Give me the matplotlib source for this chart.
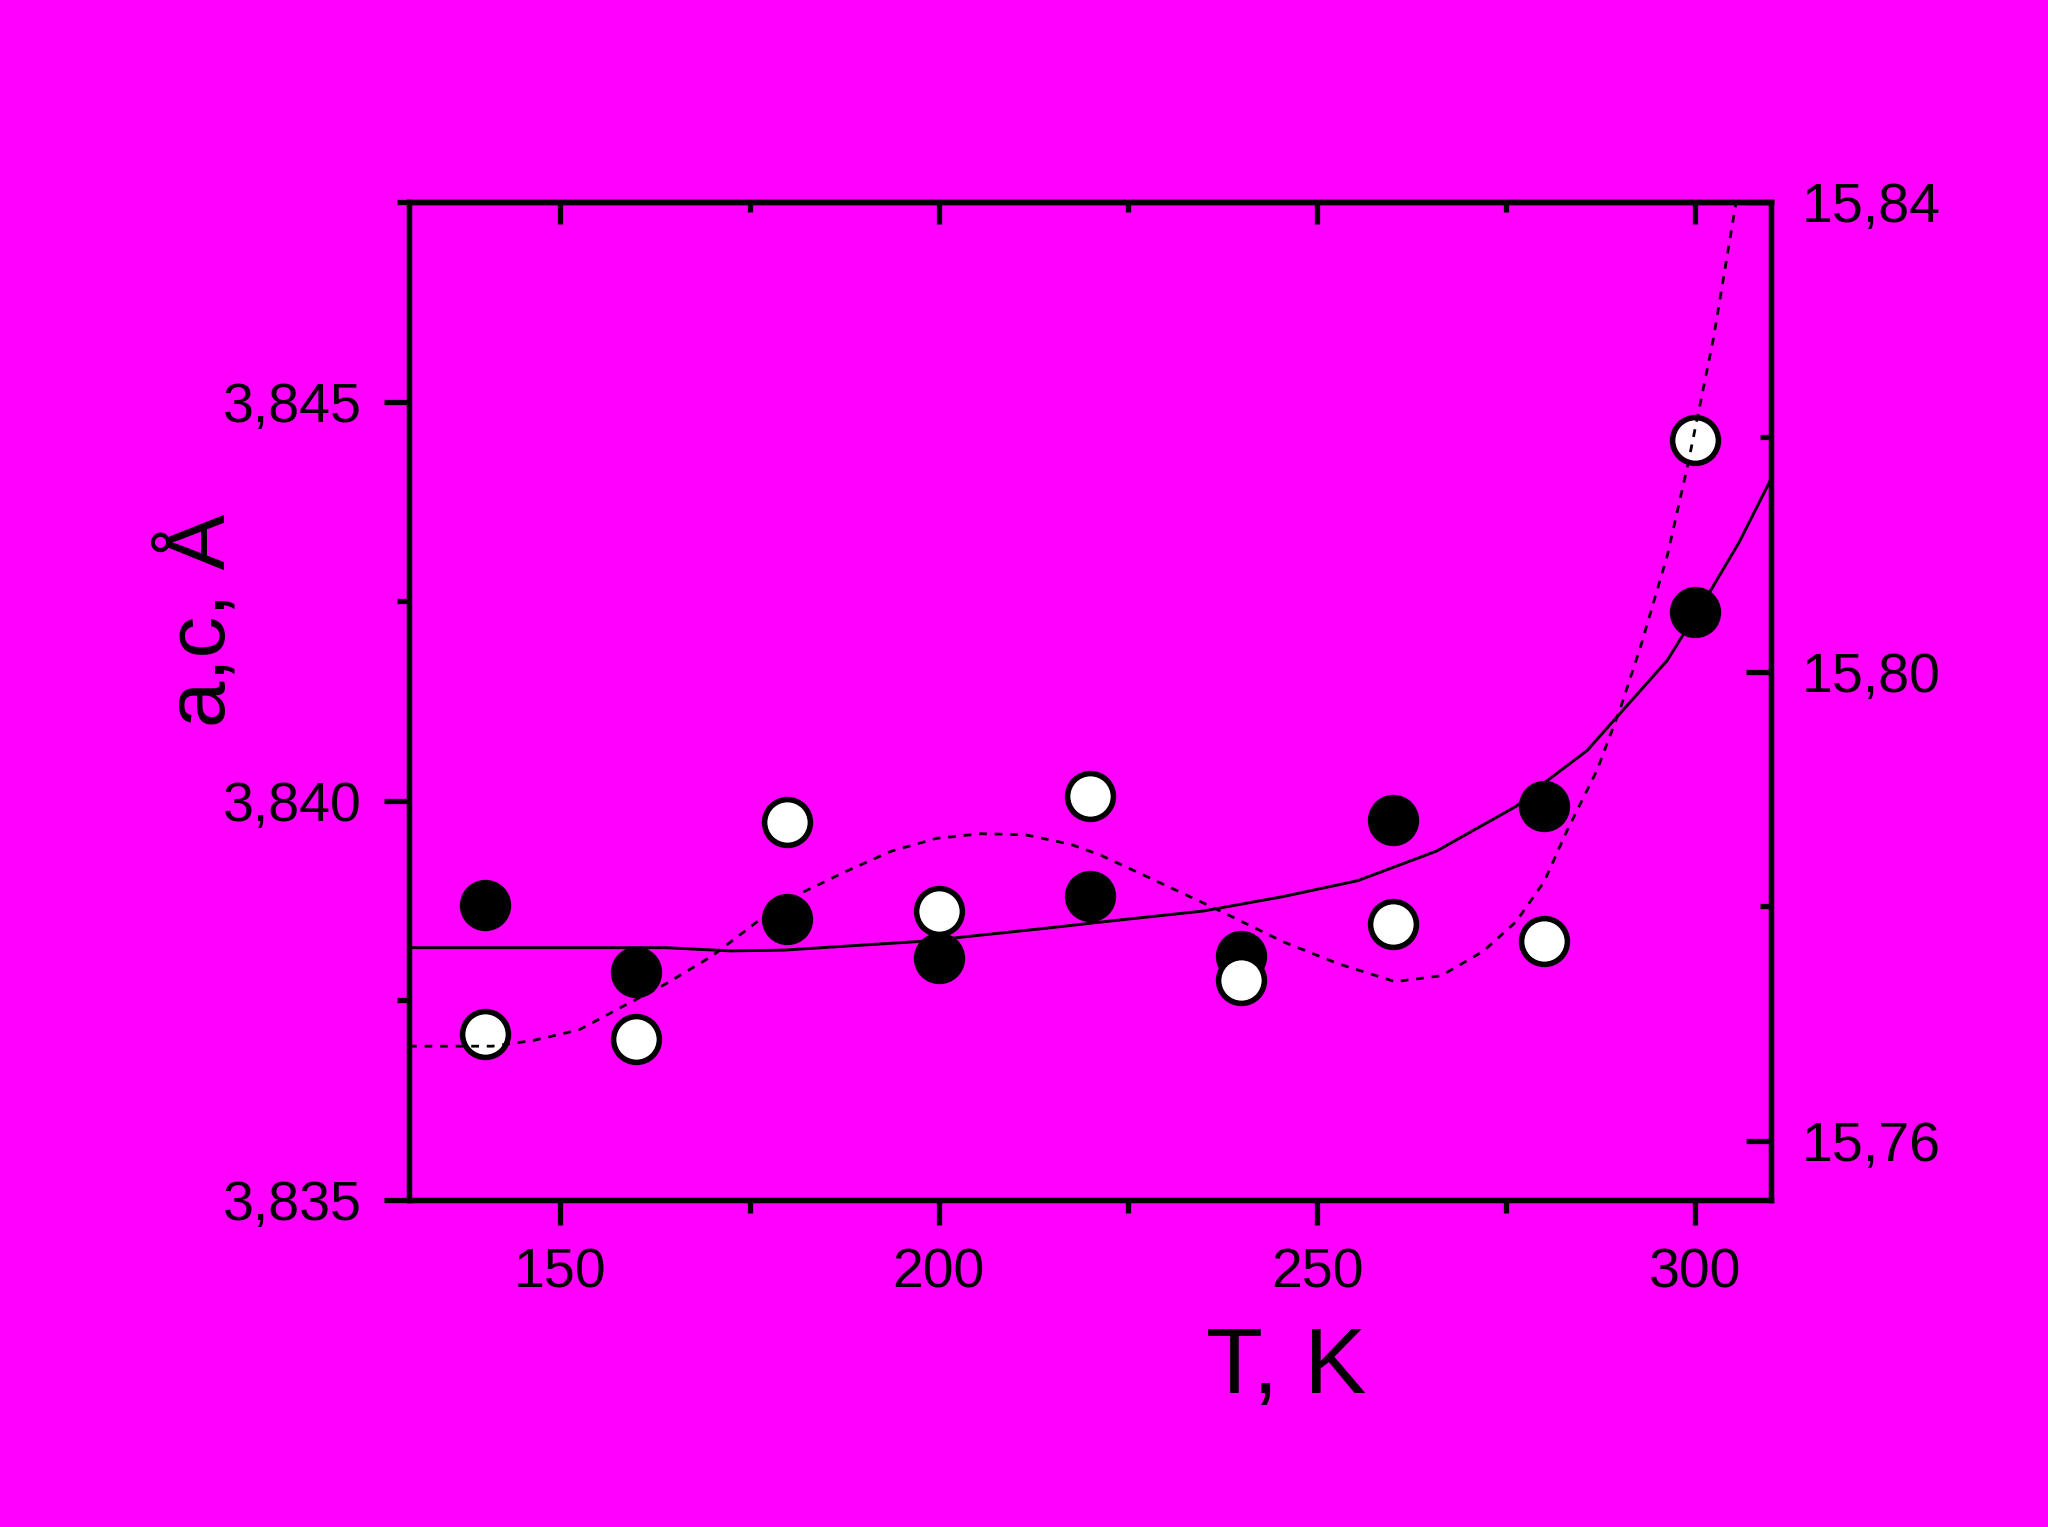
import matplotlib
matplotlib.use("Agg")
import matplotlib.pyplot as plt
from matplotlib.ticker import MultipleLocator, FuncFormatter

plt.rcParams['font.family'] = ['Liberation Sans', 'DejaVu Sans']

# measured points
T = [140, 160, 180, 200, 220, 240, 260, 280, 300]
a_vals = [3.83869, 3.83785, 3.83852, 3.83803, 3.83881, 3.83806, 3.83976, 3.83993, 3.84237]
c_vals = [15.7691, 15.7687, 15.7872, 15.7796, 15.7894, 15.7737, 15.7785, 15.7771, 15.8197]

# fit curve for a (solid)
T_fit_a = [130, 164, 172.5, 179.6, 187.8, 197.8, 214.8, 221.3, 235, 245.5, 255.4,
           265.8, 276.3, 280.4, 285.7, 296.3, 302, 305.8, 310]
a_fit = [3.83816, 3.83816, 3.83812, 3.83813, 3.83818, 3.83824, 3.83841, 3.83848, 3.83862,
         3.83880, 3.83900, 3.83937, 3.83993, 3.84025, 3.84063, 3.84176, 3.84263, 3.84324, 3.84403]

# fit curve for c (dashed)
T_fit_c = [130, 141, 146.5, 152.5, 158.3, 164.2, 170.1, 176, 182, 187.8, 193.7, 199.7,
           205.6, 211.5, 217.4, 221.3, 227, 236.3, 245.5, 252.9, 260.3, 266.4, 272,
           276.3, 280, 283, 287, 290.1, 292.7, 296.3, 299, 302.4, 305.1, 306]
c_fit = [15.7681, 15.7681, 15.7686, 15.7695, 15.7715, 15.7735, 15.7758, 15.7787, 15.7812,
         15.7830, 15.7847, 15.7858, 15.7862, 15.7861, 15.7853, 15.7844, 15.7827, 15.7799,
         15.7770, 15.7751, 15.7736, 15.7741, 15.7762, 15.7787, 15.7821, 15.7864, 15.7916,
         15.7969, 15.8020, 15.8099, 15.8176, 15.8284, 15.8389, 15.8420]

bg = '#ff00ff'
lw_ax = 3.8
fig = plt.figure(figsize=(20.48, 15.27), dpi=100, facecolor=bg)
ax = fig.add_axes([409 / 2048, 1 - 1200 / 1527, 1362 / 2048, 998 / 1527])
ax.set_facecolor(bg)

ax.plot(T, a_vals, 'o', color='black', ms=37, mec='black', mew=0, zorder=3)
ax.plot(T_fit_a, a_fit, '-', color='black', lw=2.1, zorder=4)
ax.set_xlim(130, 310)
ax.set_ylim(3.835, 3.8475)

ax2 = ax.twinx()
ax2.plot(T, c_vals, 'o', color='white', ms=33, mec='black', mew=4, zorder=3)
ax2.plot(T_fit_c, c_fit, color='black', lw=2.0, dashes=(2.8, 2.8), zorder=4)
ax2.set_ylim(15.755, 15.84)

for s in ax.spines.values():
    s.set_linewidth(lw_ax)
for s in ax2.spines.values():
    s.set_linewidth(lw_ax)

comma = lambda fmt: FuncFormatter(lambda v, p: (fmt % v).replace('.', ','))

ax.xaxis.set_major_locator(MultipleLocator(50))
ax.xaxis.set_minor_locator(MultipleLocator(25))
ax.yaxis.set_major_locator(MultipleLocator(0.005))
ax.yaxis.set_minor_locator(MultipleLocator(0.0025))
ax.yaxis.set_major_formatter(comma('%.3f'))
ax2.yaxis.set_major_locator(MultipleLocator(0.04))
ax2.yaxis.set_minor_locator(MultipleLocator(0.02))
ax2.yaxis.set_major_formatter(comma('%.2f'))

ax.tick_params(axis='both', which='major', direction='out', length=18, width=lw_ax,
               labelsize=40, pad=16)
ax.tick_params(axis='both', which='minor', direction='out', length=9, width=lw_ax)
ax.tick_params(axis='x', which='both', top=False)
ax.tick_params(axis='y', which='both', right=False)
ax2.tick_params(axis='y', which='major', direction='in', length=18, width=lw_ax,
                labelsize=40, pad=22)
ax2.tick_params(axis='y', which='minor', direction='in', length=8, width=lw_ax)

top = ax.secondary_xaxis('top')
top.xaxis.set_major_locator(MultipleLocator(50))
top.xaxis.set_minor_locator(MultipleLocator(25))
top.tick_params(axis='x', which='major', direction='in', length=16, width=lw_ax, labeltop=False)
top.tick_params(axis='x', which='minor', direction='in', length=7, width=lw_ax)
top.spines['top'].set_linewidth(lw_ax)

fig.text(1286 / 2048, 1 - 1369 / 1527, 'T, K', fontsize=67, ha='center', va='center')
fig.text(200 / 2048, 1 - 620 / 1527, 'a,c, Å', fontsize=60, rotation=90,
         ha='center', va='center')

fig.savefig('out.png', dpi=100, facecolor=bg)
